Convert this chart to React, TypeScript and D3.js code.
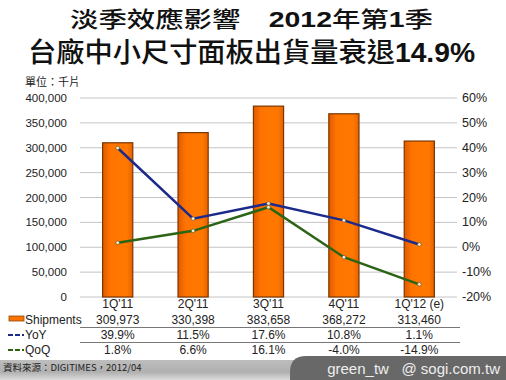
import React from "react";
import * as d3 from "d3";

const categories = ["1Q'11", "2Q'11", "3Q'11", "4Q'11", "1Q'12 (e)"];
const shipments = [309973, 330398, 383658, 368272, 313460];
const yoy = [0.399, 0.115, 0.176, 0.108, 0.011];
const qoq = [0.018, 0.066, 0.161, -0.04, -0.149];
const leftTicks = [0, 50000, 100000, 150000, 200000, 250000, 300000, 350000, 400000];
const rightTicks = [-0.2, -0.1, 0, 0.1, 0.2, 0.3, 0.4, 0.5, 0.6];

const W = 506;
const H = 380;
const plotLeft = 80;
const plotRight = 457;
const plotTop = 98;
const plotBottom = 297;

const FONT = "'Liberation Sans', Arial, 'Noto Sans CJK TC', sans-serif";
const CJK = "'Noto Sans CJK TC', 'Liberation Sans', sans-serif";

const locale = d3.formatLocale({
  decimal: ".",
  thousands: ",",
  grouping: [3],
  currency: ["", ""],
  minus: "-",
});

export default function App() {
  const x = d3
    .scaleBand<string>()
    .domain(categories)
    .range([plotLeft, plotRight])
    .paddingInner(0.6)
    .paddingOuter(0.3);
  const yL = d3.scaleLinear().domain([0, 400000]).range([plotBottom, plotTop]);
  const yR = d3.scaleLinear().domain([-0.2, 0.6]).range([plotBottom, plotTop]);
  const fmtL = locale.format(",");
  const fmtR = locale.format(".0%");
  const fmtP = locale.format(".1%");
  const cx = (c: string) => (x(c) as number) + x.bandwidth() / 2;

  const line = d3
    .line<number>()
    .x((_, i) => cx(categories[i]))
    .y((d) => yR(d));

  const rowY = [308, 324, 339, 354];
  const blue = "#1c2a8c";
  const green = "#2b6414";

  return (
    <svg width={W} height={H} style={{ display: "block", position: "absolute", left: 0, top: 0 }}>
      <defs>
        <linearGradient id="barG" x1="0" x2="1" y1="0" y2="0">
          <stop offset="0" stopColor="#e05a00" />
          <stop offset="0.25" stopColor="#ff7400" />
          <stop offset="0.8" stopColor="#ff7800" />
          <stop offset="1" stopColor="#e86200" />
        </linearGradient>
        <linearGradient id="footG" x1="0" x2="0" y1="0" y2="1">
          <stop offset="0" stopColor="#bdbdbd" />
          <stop offset="0.6" stopColor="#b0b0b0" />
          <stop offset="1" stopColor="#dcdcdc" />
        </linearGradient>
      </defs>
      <rect x={0} y={0} width={W} height={H} fill="#ffffff" />

      {/* Title */}
      <text x={70} y={27} fontSize={22} textLength={363} lengthAdjust="spacingAndGlyphs" fill="#111">
        <tspan fontFamily={CJK} fontWeight={500}>淡季效應影響</tspan>
        <tspan fontFamily={CJK}>　</tspan>
        <tspan fontFamily={FONT} fontWeight="bold">2012</tspan>
        <tspan fontFamily={CJK} fontWeight={500}>年第</tspan>
        <tspan fontFamily={FONT} fontWeight="bold">1</tspan>
        <tspan fontFamily={CJK} fontWeight={500}>季</tspan>
      </text>
      <text x={28} y={62} fontSize={27} textLength={447} lengthAdjust="spacingAndGlyphs" fill="#111">
        <tspan fontFamily={CJK} fontWeight={500}>台廠中小尺寸面板出貨量衰退</tspan>
        <tspan fontFamily={FONT} fontWeight="bold">14.9%</tspan>
      </text>
      <text x={25} y={86} fontSize={11} fontFamily={CJK} fill="#222">單位：千片</text>

      {/* Gridlines */}
      {leftTicks.map((t) => (
        <line key={t} x1={plotLeft} x2={plotRight} y1={yL(t)} y2={yL(t)} stroke="#c4c4c4" strokeWidth={1} />
      ))}
      {leftTicks.map((t) => (
        <text key={"l" + t} x={67} y={yL(t) + 4} fontSize={11.5} fontFamily={FONT} textAnchor="end" fill="#222">
          {fmtL(t)}
        </text>
      ))}
      {rightTicks.map((t) => (
        <text key={"r" + t} x={462} y={yR(t) + 4} fontSize={12.5} fontFamily={FONT} fill="#222">
          {fmtR(t)}
        </text>
      ))}

      {/* Bars */}
      {shipments.map((v, i) => (
        <rect
          key={i}
          x={x(categories[i])}
          y={yL(v)}
          width={x.bandwidth()}
          height={plotBottom - yL(v)}
          fill="url(#barG)"
          stroke="#7a3600"
          strokeWidth={1.2}
        />
      ))}

      {/* Lines */}
      <path d={line(yoy) || ""} fill="none" stroke={blue} strokeWidth={2.5} />
      <path d={line(qoq) || ""} fill="none" stroke={green} strokeWidth={2.5} />
      {yoy.map((v, i) => (
        <circle key={"yd" + i} cx={cx(categories[i])} cy={yR(v)} r={1.8} fill="#f4f0d0" stroke="#553" strokeWidth={0.6} />
      ))}
      {qoq.map((v, i) => (
        <circle key={"qd" + i} cx={cx(categories[i])} cy={yR(v)} r={1.8} fill="#f4f0d0" stroke="#553" strokeWidth={0.6} />
      ))}

      {/* Data table */}
      {categories.map((c) => (
        <text key={"c" + c} x={cx(c)} y={rowY[0]} fontSize={12} fontFamily={FONT} textAnchor="middle" fill="#222">
          {c}
        </text>
      ))}
      {shipments.map((v, i) => (
        <text key={"s" + i} x={cx(categories[i])} y={rowY[1]} fontSize={12} fontFamily={FONT} textAnchor="middle" fill="#222">
          {fmtL(v)}
        </text>
      ))}
      {yoy.map((v, i) => (
        <text key={"y" + i} x={cx(categories[i])} y={rowY[2]} fontSize={12} fontFamily={FONT} textAnchor="middle" fill="#222">
          {fmtP(v)}
        </text>
      ))}
      {qoq.map((v, i) => (
        <text key={"q" + i} x={cx(categories[i])} y={rowY[3]} fontSize={12} fontFamily={FONT} textAnchor="middle" fill="#222">
          {fmtP(v)}
        </text>
      ))}
      <line x1={plotLeft} x2={460} y1={327.5} y2={327.5} stroke="#777" strokeWidth={1} />
      <line x1={plotLeft} x2={460} y1={342.5} y2={342.5} stroke="#777" strokeWidth={1} />

      {/* Legend keys */}
      <rect x={9} y={316} width={15} height={5} fill="#ff7400" stroke="#8a4a10" strokeWidth={0.8} />
      <text x={25} y={rowY[1]} fontSize={12} fontFamily={FONT} fill="#222">Shipments</text>
      <line x1={8} x2={24} y1={335} y2={335} stroke={blue} strokeWidth={2} strokeDasharray="5,2" />
      <text x={25} y={rowY[2]} fontSize={12} fontFamily={FONT} fill="#222">YoY</text>
      <line x1={8} x2={24} y1={350} y2={350} stroke={green} strokeWidth={2} strokeDasharray="5,2" />
      <text x={25} y={rowY[3]} fontSize={12} fontFamily={FONT} fill="#222">QoQ</text>

      {/* Footer */}
      <rect x={0} y={360} width={W} height={20} fill="url(#footG)" />
      <text x={3} y={371} fontSize={9.5} fontFamily={CJK} fill="#222">資料來源：DIGITIMES，2012/04</text>
      <path d={`M290,380 L290,372 Q290,356 306,356 L${W},356 L${W},380 Z`} fill="#686868" />
      <text x={500} y={374} fontSize={15} fontFamily={FONT} fill="#eeeeee" textAnchor="end">
        green_tw{"\u00a0\u00a0\u00a0"}@ sogi.com.tw
      </text>
    </svg>
  );
}
